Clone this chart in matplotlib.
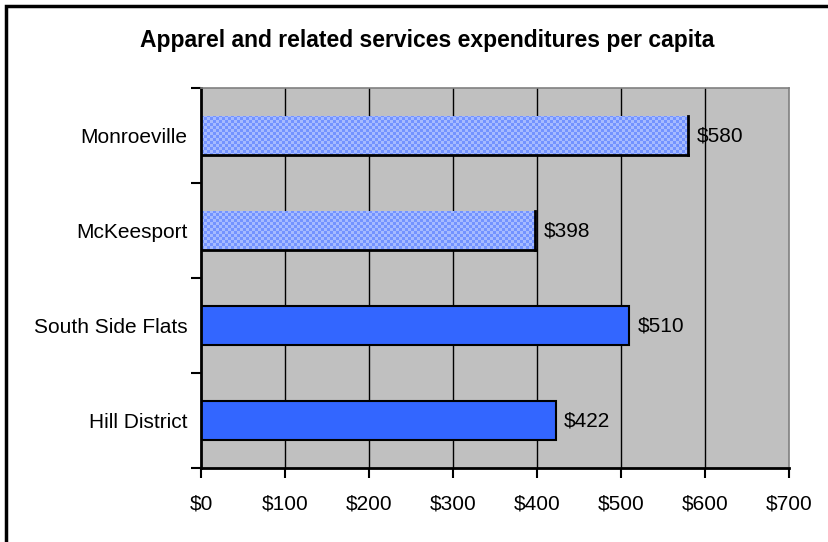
import numpy as np
import matplotlib.pyplot as plt
from matplotlib.patches import Rectangle

plt.rcParams['font.family'] = ['Liberation Sans', 'DejaVu Sans']

title = "Apparel and related services expenditures per capita"
areas = ["Hill District", "South Side Flats", "McKeesport", "Monroeville"]
spending = [422, 510, 398, 580]
suburban = [False, False, True, True]
x_ticks = [0, 100, 200, 300, 400, 500, 600, 700]

solid_blue = "#3366ff"
check_dark = np.array([0x73, 0x93, 0xff]) / 255
check_light = np.array([0xa6, 0xbb, 0xff]) / 255

fig = plt.figure(figsize=(8.29, 5.42), dpi=100)
ax = fig.add_axes([0.2425, 0.1365, 0.7093, 0.7011])
ax.set_facecolor("#c0c0c0")

ypos = np.arange(len(areas))
bar_h = 0.42
ax.set_xlim(0, 700)
ax.set_ylim(-0.5, len(areas) - 0.5)

for x in x_ticks[1:-1]:
    ax.axvline(x, color="black", lw=1.0, zorder=1)

# checkerboard texture for the suburban bars, about 3 px per cell
cells = np.indices((127, 196)).sum(axis=0) % 2
checker = np.where(cells[..., None] == 1, check_dark, check_light)

for y, v, sub in zip(ypos, spending, suburban):
    if sub:
        rect = Rectangle((0, y - bar_h / 2), v, bar_h, facecolor="none",
                         edgecolor="none", zorder=2)
        ax.add_patch(rect)
        img = ax.imshow(checker, extent=(0, 700, -0.5, len(areas) - 0.5),
                        aspect="auto", interpolation="nearest", zorder=2)
        img.set_clip_path(rect)
        ax.plot([v, v], [y - bar_h / 2, y + bar_h / 2], color="black", lw=2, zorder=3)
        ax.plot([0, v], [y - bar_h / 2, y - bar_h / 2], color="black", lw=2, zorder=3)
    else:
        ax.barh(y, v, height=bar_h, color=solid_blue, edgecolor="black",
                linewidth=1.5, zorder=2)
    ax.annotate(f"${v}", (v, y), xytext=(6, 0), textcoords="offset points",
                va="center", ha="left", fontsize=15)

ax.set_xticks(x_ticks)
ax.set_xticklabels([f"${t}" for t in x_ticks], fontsize=15)
ax.set_yticks(np.arange(-0.5, len(areas), 1.0))
ax.set_yticklabels([])
ax.set_yticks(ypos, minor=True)
ax.set_yticklabels(areas, minor=True, fontsize=15)
ax.tick_params(axis="y", which="minor", length=0, pad=10)
ax.tick_params(axis="y", which="major", length=7, width=1.5, direction="out")
ax.tick_params(axis="x", length=7, width=1.5, direction="out", pad=12)

for side in ("left", "bottom"):
    ax.spines[side].set_linewidth(2)
    ax.spines[side].set_color("black")
for side in ("top", "right"):
    ax.spines[side].set_linewidth(1.2)
    ax.spines[side].set_color("#808080")

fig.text(0.515, 1 - 40 / 542, title, ha="center", va="center",
         fontsize=16.5, fontweight="bold")

# outer chart frame, running off the right and bottom edges
fig.patches.append(Rectangle((6 / 829, -0.05), 1.1, 1 - 6 / 542 + 0.05,
                             transform=fig.transFigure, fill=False,
                             edgecolor="black", lw=2.5))

fig.savefig("out.png", dpi=100)
